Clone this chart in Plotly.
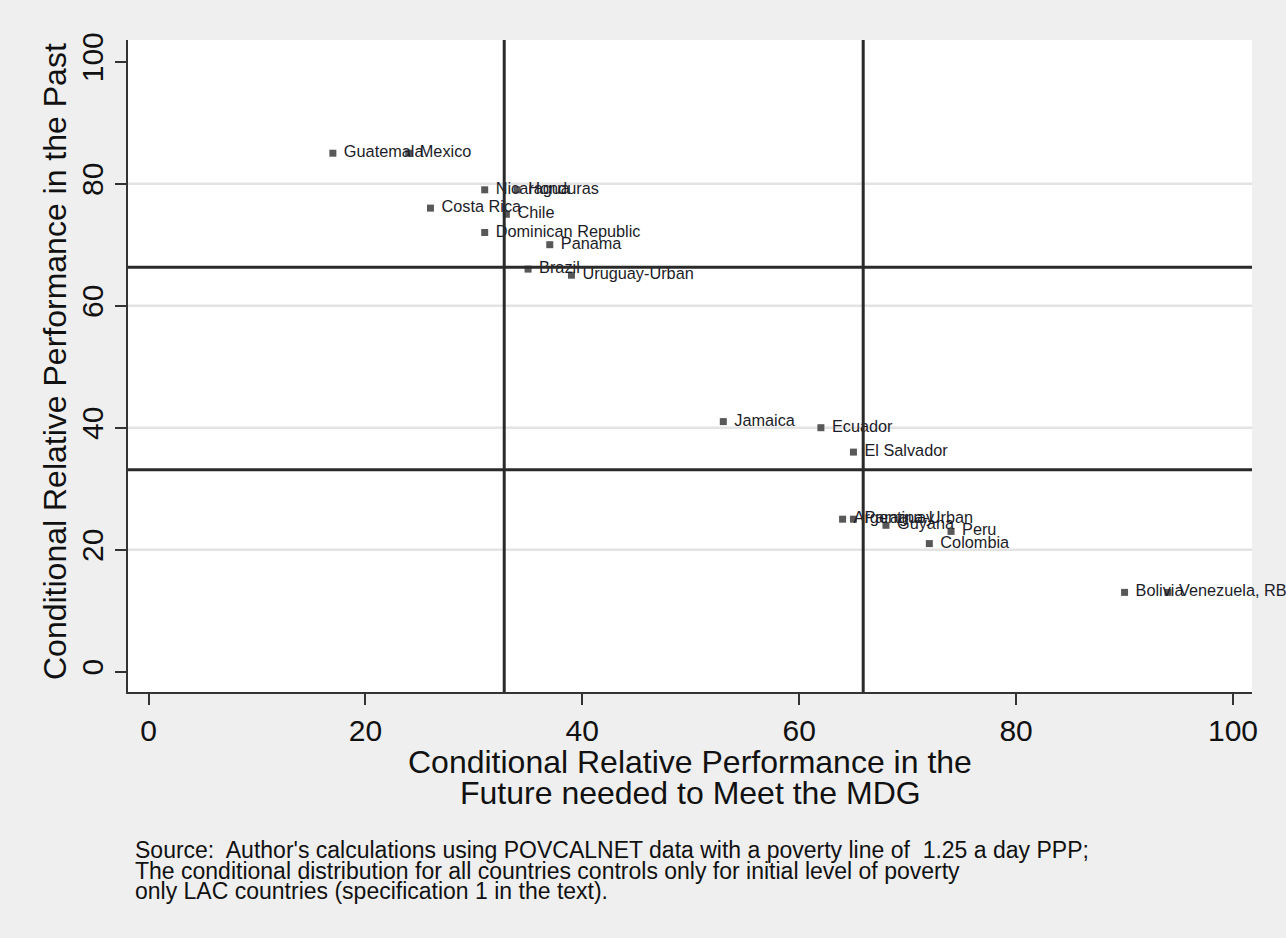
import plotly.graph_objects as go

# Country positions: future performance needed (x) vs past performance (y)
countries = [
    "Guatemala", "Mexico", "Nicaragua", "Honduras", "Costa Rica", "Chile",
    "Dominican Republic", "Panama", "Brazil", "Uruguay-Urban", "Jamaica",
    "Ecuador", "El Salvador", "Argentina-Urban", "Paraguay", "Guyana",
    "Peru", "Colombia", "Bolivia", "Venezuela, RB",
]
future_needed = [17, 24, 31, 34, 26, 33, 31, 37, 35, 39, 53, 62, 65, 64, 65, 68, 74, 72, 90, 94]
past_perf = [85, 85, 79, 79, 76, 75, 72, 70, 66, 65, 41, 40, 36, 25, 25, 24, 23, 21, 13, 13]

# Tercile cut-offs drawn as reference lines
x_cuts = [32.8, 65.9]
y_cuts = [33.1, 66.3]

tick_vals = [0, 20, 40, 60, 80, 100]
grid_y = [20, 40, 60, 80]

x_title_lines = ["Conditional Relative Performance in the", "Future needed to Meet the MDG"]
y_title = "Conditional Relative Performance in the Past"
footnote_lines = [
    "Source:  Author's calculations using POVCALNET data with a poverty line of  1.25 a day PPP;",
    "The conditional distribution for all countries controls only for initial level of poverty",
    "only LAC countries (specification 1 in the text).",
]

FONT = "Liberation Sans, Arial, sans-serif"
W, H = 1286, 938
ML, MR, MT, MB = 128, 34, 40, 246
PW, PH = W - ML - MR, H - MT - MB


def px_x(px):
    return (px - ML) / PW


def px_y(py):
    return 1 - (py - MT) / PH


fig = go.Figure()

# visible square markers
fig.add_trace(go.Scatter(
    x=future_needed, y=past_perf, mode="markers",
    marker=dict(symbol="square", size=7, color="#585858"),
    showlegend=False, hoverinfo="skip",
))
# marker labels, padded away from the points by a wider transparent marker
fig.add_trace(go.Scatter(
    x=future_needed, y=past_perf, text=countries,
    mode="markers+text", textposition="middle right",
    marker=dict(symbol="square", size=16, color="rgba(0,0,0,0)"),
    textfont=dict(family=FONT, size=16.3, color="#1c1c28"),
    cliponaxis=False, showlegend=False, hoverinfo="text",
))

shapes = []
for g in grid_y:
    shapes.append(dict(type="line", xref="paper", yref="y", x0=0, x1=1, y0=g, y1=g,
                       line=dict(color="#e3e3e3", width=2.5), layer="below"))
for xc in x_cuts:
    shapes.append(dict(type="line", xref="x", yref="paper", x0=xc, x1=xc, y0=0, y1=1,
                       line=dict(color="#2a2a2a", width=3)))
for yc in y_cuts:
    shapes.append(dict(type="line", xref="paper", yref="y", x0=0, x1=1, y0=yc, y1=yc,
                       line=dict(color="#2a2a2a", width=3)))

annotations = []
for i, line in enumerate(x_title_lines):
    annotations.append(dict(text=line, xref="paper", yref="paper",
                            x=px_x(690), y=px_y(762 + 31 * i),
                            xanchor="center", yanchor="middle", showarrow=False,
                            font=dict(family=FONT, size=32, color="#111")))
annotations.append(dict(text=y_title, xref="paper", yref="paper",
                        x=px_x(55), y=px_y(362), textangle=-90,
                        xanchor="center", yanchor="middle", showarrow=False,
                        font=dict(family=FONT, size=32, color="#111")))
for i, line in enumerate(footnote_lines):
    annotations.append(dict(text=line, xref="paper", yref="paper",
                            x=px_x(133), y=px_y(850 + 20.5 * i),
                            xanchor="left", yanchor="middle", showarrow=False,
                            font=dict(family=FONT, size=23, color="#111")))

fig.update_layout(
    width=W, height=H,
    margin=dict(l=ML, r=MR, t=MT, b=MB, autoexpand=False),
    paper_bgcolor="#efefef", plot_bgcolor="#ffffff",
    shapes=shapes, annotations=annotations,
    xaxis=dict(range=[-1.89, 101.75], tickvals=tick_vals, showgrid=False, zeroline=False,
               showline=True, linecolor="#333", linewidth=1.5,
               ticks="outside", ticklen=11, tickwidth=1.5, tickcolor="#333",
               tickfont=dict(family=FONT, size=30, color="#111")),
    yaxis=dict(range=[-3.33, 103.56], tickvals=tick_vals, showgrid=False, zeroline=False,
               showline=True, linecolor="#333", linewidth=1.5,
               ticks="outside", ticklen=11, tickwidth=1.5, tickcolor="#333",
               tickangle=-90,
               tickfont=dict(family=FONT, size=30, color="#111")),
)

fig.write_html("out.html")
